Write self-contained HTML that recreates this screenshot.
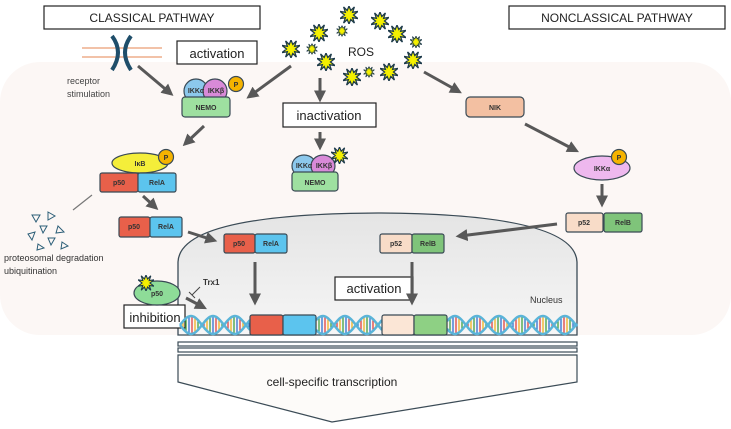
<!DOCTYPE html>
<html><head><meta charset="utf-8"><style>
html,body{margin:0;padding:0;background:#fff;width:731px;height:429px;overflow:hidden}
svg{display:block;font-family:"Liberation Sans",sans-serif}
.lbl{font-size:7px;font-weight:bold;fill:#333;text-anchor:middle}
.box{fill:#fff;stroke:#222;stroke-width:1.2}
.ar{stroke:#585858;stroke-width:3;fill:none;marker-end:url(#ah)}
.pr{stroke:#3a4a55;stroke-width:1.2}
</style></head><body>
<svg id="s" width="731" height="429" viewBox="0 0 731 429">
<defs>
<marker id="ah" markerWidth="4" markerHeight="4" refX="2.5" refY="2" orient="auto" markerUnits="strokeWidth"><path d="M0,0 L4,2 L0,4 z" fill="#585858"/></marker>
<linearGradient id="nuc" x1="0" y1="0" x2="0" y2="1"><stop offset="0" stop-color="#e4e4e4"/><stop offset="1" stop-color="#f6f6f6"/></linearGradient>
<symbol id="star" viewBox="-10 -10 20 20"><polygon points="0,-10 2,-5 6,-9 4,-3 10,-4 5,0 10,4 4,3 6,9 2,5 0,10 -2,5 -6,9 -4,3 -10,4 -5,0 -10,-4 -4,-3 -6,-9 -2,-5" fill="#f4f000" stroke="#1d3a4a" stroke-width="1.4"/></symbol>
</defs>
<rect x="0" y="62" width="731" height="273" rx="40" fill="#fcf7f5"/>
<path d="M178,335 L178,262 Q180,214 378,213 Q575,214 577,262 L577,335 Z" fill="url(#nuc)" stroke="#3b4b56" stroke-width="1.3"/>
<text x="530" y="303" font-size="9" fill="#333">Nucleus</text>

<g><rect class="box" x="44" y="6" width="216" height="23"/><text x="152" y="22" font-size="12" text-anchor="middle" fill="#222">CLASSICAL PATHWAY</text></g>
<g><rect class="box" x="509" y="6" width="216" height="23"/><text x="617" y="22" font-size="12" text-anchor="middle" fill="#222">NONCLASSICAL PATHWAY</text></g>
<g><rect class="box" x="177" y="41" width="80" height="23"/><text x="217" y="58" font-size="13" text-anchor="middle" fill="#222">activation</text></g>
<g><rect class="box" x="283" y="103" width="93" height="24"/><text x="329" y="120" font-size="13" text-anchor="middle" fill="#222">inactivation</text></g>
<g><rect class="box" x="335" y="277" width="78" height="23"/><text x="374" y="293" font-size="13" text-anchor="middle" fill="#222">activation</text></g>
<g><rect class="box" x="124" y="305" width="61" height="23"/><text x="155" y="322" font-size="13" text-anchor="middle" fill="#222">inhibition</text></g>

<g>
<line x1="82" y1="48" x2="162" y2="48" stroke="#f2c2a8" stroke-width="2"/><line x1="82" y1="57" x2="162" y2="57" stroke="#f2c2a8" stroke-width="2"/>
<path d="M112,36 Q124,52 112,70" stroke="#1f4e6a" stroke-width="4" fill="none"/><path d="M131,36 Q119,52 131,70" stroke="#1f4e6a" stroke-width="4" fill="none"/>
</g>
<text x="67" y="84" font-size="9" fill="#444"><tspan x="67">receptor</tspan><tspan x="67" dy="13">stimulation</tspan></text>
<text x="348" y="56" font-size="12" fill="#222">ROS</text>
<g id="stars"></g>

<g>
<ellipse cx="196" cy="91" rx="12" ry="12" fill="#8cc8ec" class="pr"/><ellipse cx="215" cy="91" rx="12" ry="12" fill="#d98ad8" class="pr"/>
<rect x="182" y="97" width="48" height="20" rx="3" fill="#9ee0a0" class="pr"/>
<text class="lbl" x="196" y="93">IKKα</text><text class="lbl" x="216" y="93">IKKβ</text><text class="lbl" x="206" y="110">NEMO</text>
<circle cx="236" cy="84" r="7.5" fill="#f5b300" class="pr"/><text class="lbl" x="236" y="87">P</text></g>
<g>
<ellipse cx="304" cy="166" rx="12" ry="11" fill="#8cc8ec" class="pr"/><ellipse cx="323" cy="166" rx="12" ry="11" fill="#d98ad8" class="pr"/>
<rect x="292" y="172" width="46" height="19" rx="3" fill="#9ee0a0" class="pr"/>
<text class="lbl" x="304" y="168">IKKα</text><text class="lbl" x="324" y="168">IKKβ</text><text class="lbl" x="315" y="185">NEMO</text>
<use href="#star" x="331" y="147" width="17" height="17"/></g>
<g>
<ellipse cx="140" cy="163" rx="28" ry="10" fill="#f4ee3a" class="pr"/><text class="lbl" x="140" y="166">IκB</text>
<circle cx="166" cy="157" r="7.5" fill="#f5b300" class="pr"/><text class="lbl" x="166" y="160">P</text>
<rect x="100" y="173" width="38" height="19" rx="2" fill="#e8604a" class="pr"/><rect x="138" y="173" width="38" height="19" rx="2" fill="#5cc4ee" class="pr"/>
<text class="lbl" x="119" y="185">p50</text><text class="lbl" x="157" y="185">RelA</text></g>
<g>
<rect x="119" y="217" width="31" height="20" rx="2" fill="#e8604a" class="pr"/><rect x="150" y="217" width="32" height="20" rx="2" fill="#5cc4ee" class="pr"/>
<text class="lbl" x="134" y="229">p50</text><text class="lbl" x="166" y="229">RelA</text></g>
<g>
<rect x="224" y="234" width="31" height="19" rx="2" fill="#e8604a" class="pr"/><rect x="255" y="234" width="32" height="19" rx="2" fill="#5cc4ee" class="pr"/>
<text class="lbl" x="239" y="246">p50</text><text class="lbl" x="271" y="246">RelA</text></g>
<g><rect x="466" y="97" width="58" height="20" rx="4" fill="#f3c0a2" class="pr"/><text class="lbl" x="495" y="110">NIK</text></g>
<g><ellipse cx="602" cy="168" rx="28" ry="12" fill="#eeb8ee" class="pr"/><text class="lbl" x="602" y="171">IKKα</text>
<circle cx="619" cy="157" r="7.5" fill="#f5b300" class="pr"/><text class="lbl" x="619" y="160">P</text></g>
<g>
<rect x="566" y="213" width="37" height="19" rx="2" fill="#f8dcc8" class="pr"/><rect x="604" y="213" width="38" height="19" rx="2" fill="#7fc47a" class="pr"/>
<text class="lbl" x="584" y="225">p52</text><text class="lbl" x="623" y="225">RelB</text></g>
<g>
<rect x="380" y="234" width="32" height="19" rx="2" fill="#f8dcc8" class="pr"/><rect x="412" y="234" width="32" height="19" rx="2" fill="#7fc47a" class="pr"/>
<text class="lbl" x="396" y="246">p52</text><text class="lbl" x="428" y="246">RelB</text></g>
<g><ellipse cx="157" cy="293" rx="23" ry="12" fill="#8edc98" class="pr"/><text class="lbl" x="157" y="296">p50</text><use href="#star" x="138" y="275" width="16" height="16"/></g>
<text x="203" y="285" font-size="8" font-weight="bold" fill="#333">Trx1</text>
<path d="M200,287 L192,295 M189,292 L195,298" stroke="#444" stroke-width="1"/>

<g fill="none" stroke="#2d5f78" stroke-width="1">
<polygon points="32,215 40,215 36,222"/><polygon points="48,212 55,216 48,220"/><polygon points="40,226 47,226 43,233"/><polygon points="58,226 64,232 56,233"/><polygon points="28,234 35,232 32,240"/><polygon points="48,238 55,238 51,245"/><polygon points="38,244 44,248 37,250"/><polygon points="62,242 68,246 61,249"/></g>
<text x="4" y="261" font-size="9" fill="#333"><tspan x="4">proteosomal degradation</tspan><tspan x="4" dy="13">ubiquitination</tspan></text>

<g>
<line class="ar" x1="138" y1="66" x2="170" y2="93"/>
<line class="ar" x1="291" y1="66" x2="250" y2="96"/>
<line class="ar" x1="320" y1="78" x2="320" y2="98"/>
<line class="ar" x1="320" y1="132" x2="320" y2="146"/>
<line class="ar" x1="204" y1="126" x2="186" y2="143"/>
<line stroke="#777" stroke-width="1.2" x1="92" y1="195" x2="73" y2="210"/>
<line class="ar" x1="143" y1="196" x2="155" y2="207"/>
<line class="ar" x1="188" y1="232" x2="213" y2="240"/>
<line class="ar" x1="255" y1="262" x2="255" y2="301"/>
<line class="ar" x1="412" y1="262" x2="412" y2="301"/>
<line class="ar" x1="424" y1="72" x2="458" y2="91"/>
<line class="ar" x1="525" y1="124" x2="575" y2="150"/>
<line class="ar" x1="602" y1="184" x2="602" y2="203"/>
<line class="ar" x1="557" y1="224" x2="460" y2="236"/>
<line class="ar" x1="186" y1="298" x2="203" y2="307"/>
</g>
<g id="dna"></g>
<g>
<rect x="250" y="315" width="33" height="20" rx="2" fill="#e8604a" class="pr"/><rect x="283" y="315" width="33" height="20" rx="2" fill="#5cc4ee" class="pr"/>
<rect x="382" y="315" width="32" height="20" rx="2" fill="#fbe6d6" class="pr"/><rect x="414" y="315" width="33" height="20" rx="2" fill="#8ed084" class="pr"/></g>
<g stroke="#3b4b56" stroke-width="1.2">
<rect x="178" y="342" width="399" height="4" fill="#fff"/><rect x="178" y="348" width="399" height="4" fill="#fff"/>
<path d="M178,355 L577,355 L577,382 L332,422 L178,382 Z" fill="#fdfbf9"/></g>
<text x="332" y="386" font-size="12" text-anchor="middle" fill="#222">cell-specific transcription</text>
</svg>
<script>
var NS='http://www.w3.org/2000/svg';
var starPos=[[349,15,18],[380,21,18],[319,33,18],[342,31,11],[397,34,18],[416,42,12],[291,49,18],[312,49,11],[326,62,18],[413,60,18],[352,77,18],[369,72,11],[389,72,18]];
var g=document.getElementById('stars');
starPos.forEach(function(p){var u=document.createElementNS(NS,'use');u.setAttribute('href','#star');var s=p[2];u.setAttribute('x',p[0]-s/2);u.setAttribute('y',p[1]-s/2);u.setAttribute('width',s);u.setAttribute('height',s);


g.appendChild(u);});
var d=document.getElementById('dna');
var segs=[[180,250],[316,382],[447,577]];
var cols=['#e04040','#f0b020','#40a040','#3070d0'];
segs.forEach(function(sg){
 for(var x=sg[0];x<sg[1];x+=3){var a=Math.sin((x-180)/7),y1=325+9*a,y2=325-9*a;
  var l=document.createElementNS(NS,'line');l.setAttribute('x1',x);l.setAttribute('x2',x);l.setAttribute('y1',y1);l.setAttribute('y2',y2);l.setAttribute('stroke',cols[(x/3|0)%4]);l.setAttribute('stroke-width','1.3');
  
  
  d.appendChild(l);}
 [1,-1].forEach(function(sn){var p='';for(var x=sg[0];x<=sg[1];x+=1){p+=(x==sg[0]?'M':'L')+x+','+(325+sn*9*Math.sin((x-180)/7)).toFixed(1);}
  var pa=document.createElementNS(NS,'path');pa.setAttribute('d',p);pa.setAttribute('stroke','#5ab4d8');pa.setAttribute('stroke-width','2.5');pa.setAttribute('fill','none');
  
  
  d.appendChild(pa);});
});
</script>
</body></html>
